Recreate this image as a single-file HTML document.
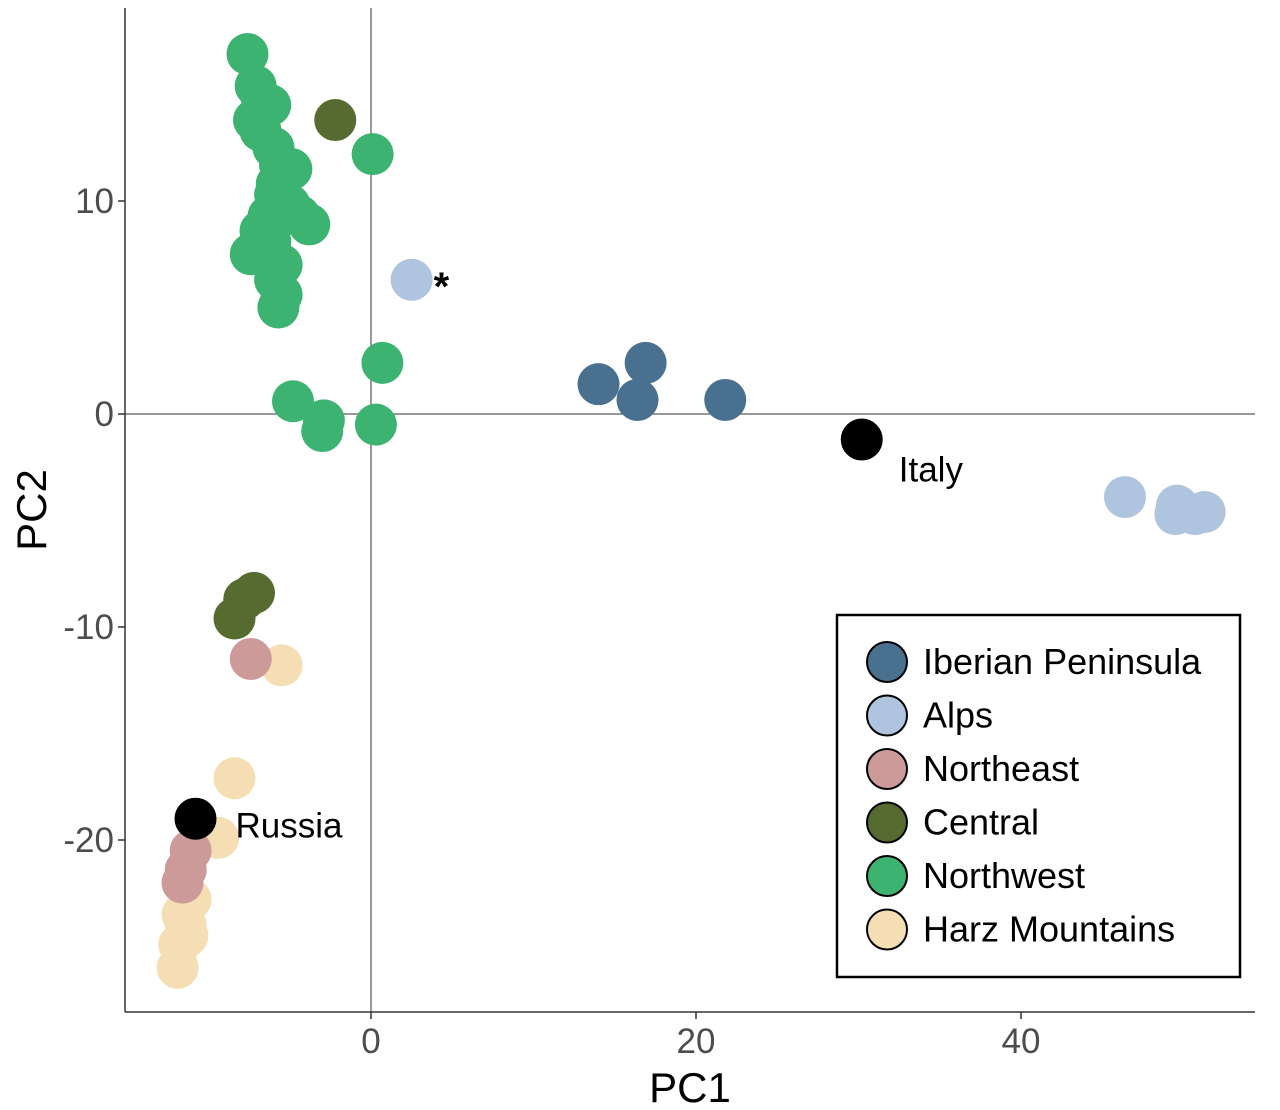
<!DOCTYPE html>
<html><head><meta charset="utf-8"><style>
body{margin:0;background:#fff;}
svg{display:block;font-family:"Liberation Sans",Arial,sans-serif;}
</style></head><body>
<svg id="chart" width="1280" height="1110">
<g id="axes"></g><g id="points"></g><g id="legend"></g>
</svg>
<script>
const groups=["Iberian Peninsula","Alps","Northeast","Central","Northwest","Harz Mountains"];
const colors=["#4a7090","#afc4de","#cd9a9a","#556b2f","#3cb371","#f5deb3"];
const northwestX=[-7.6,-7.1,-6.7,-6.2,-7.2,-6.8,-5.6,-4.9,-5.9,-4.4,-6.3,-3.8,-6.8,-7.4,-5.9,-5.5,-5.7,-6.0,-5.8,-5.0,-6.5,-5.5,-6.2,0.1,0.7,-4.8,-2.9,-3.0,0.3];
const northwestY=[16.9,15.4,14.7,14.5,13.8,13.3,11.7,11.5,10.3,9.3,9.3,8.9,8.6,7.5,6.3,5.6,5.0,12.5,10.8,9.8,7.9,7.0,8.1,12.2,2.4,0.6,-0.3,-0.8,-0.5];
const centralX=[-2.2,-8.4,-7.8,-7.2];
const centralY=[13.8,-9.6,-8.7,-8.4];
const northeastX=[-7.4,-11.1,-11.4,-11.6];
const northeastY=[-11.5,-20.5,-21.4,-22.0];
const harzX=[-5.5,-8.4,-9.4,-11.1,-11.4,-11.8,-11.9,-11.6,-11.3];
const harzY=[-11.8,-17.1,-19.9,-22.8,-24.0,-24.9,-26.0,-23.5,-24.5];
const iberianX=[14.0,16.9,16.4,21.8];
const iberianY=[1.4,2.4,0.66,0.66];
const alpsX=[2.5,46.4,49.6,50.7,49.5,51.3];
const alpsY=[6.3,-3.9,-4.3,-4.7,-4.7,-4.6];
const refLabels=["Russia","Italy"];
const refX=[-10.8,30.2];
const refY=[-19.0,-1.2];
const xTicks=[0,20,40];
const yTicks=[10,0,-10,-20];

const sx=v=>371+v*16.25, sy=v=>414-v*21.3;
const NS="http://www.w3.org/2000/svg";
function mk(tag,attrs,parent){const e=document.createElementNS(NS,tag);for(const k in attrs)e.setAttribute(k,attrs[k]);parent.appendChild(e);return e;}
const ax=document.getElementById('axes'),pts=document.getElementById('points'),lg=document.getElementById('legend');
let l=mk('line',{x1:125,y1:8,x2:125,y2:1012,stroke:'#333','stroke-width':1.5},ax);


l=mk('line',{x1:125,y1:1012,x2:1255,y2:1012,stroke:'#333','stroke-width':1.5},ax);


l=mk('line',{x1:sx(0),y1:8,x2:sx(0),y2:1012,stroke:'#333','stroke-width':1},ax);


l=mk('line',{x1:125,y1:sy(0),x2:1255,y2:sy(0),stroke:'#333','stroke-width':1},ax);


xTicks.forEach(v=>{
 const t=mk('line',{x1:sx(v),y1:1012,x2:sx(v),y2:1019,stroke:'#333','stroke-width':1.5},ax);
 
 
 const tx=mk('text',{x:sx(v),y:1053,'text-anchor':'middle','font-size':35,fill:'#4d4d4d'},ax);tx.textContent=v;
 
 
});
yTicks.forEach(v=>{
 const t=mk('line',{x1:118,y1:sy(v),x2:125,y2:sy(v),stroke:'#333','stroke-width':1.5},ax);
 
 
 const tx=mk('text',{x:114,y:sy(v)+12,'text-anchor':'end','font-size':35,fill:'#4d4d4d'},ax);tx.textContent=v;
 
 
});
let t=mk('text',{x:690,y:1102,'text-anchor':'middle','font-size':42,fill:'#000'},ax);t.textContent='PC1';


t=mk('text',{x:46,y:510,'text-anchor':'middle','font-size':42,fill:'#000',transform:'rotate(-90 46 510)'},ax);t.textContent='PC2';


function draw(xs,ys,col,name){xs.forEach((x,i)=>{const c=mk('circle',{cx:sx(x),cy:sy(ys[i]),r:21,fill:col},pts);
 
 });}
draw(northwestX,northwestY,colors[4],'point-northwest');
draw(harzX,harzY,colors[5],'point-harz');
draw(northeastX,northeastY,colors[2],'point-northeast');
draw(centralX,centralY,colors[3],'point-central');
draw(iberianX,iberianY,colors[0],'point-iberian');
draw(alpsX,alpsY,colors[1],'point-alps');
refX.forEach((x,i)=>{
 const c=mk('circle',{cx:sx(x),cy:sy(refY[i]),r:21,fill:'#000'},pts);
 
 
 const tx=mk('text',{x:sx(x)+(i==0?40:37),y:sy(refY[i])+(i==0?19:42),'font-size':35,fill:'#000'},pts);tx.textContent=refLabels[i];
 
 
});
t=mk('text',{x:sx(alpsX[0])+22,y:sy(alpsY[0])+20,'font-size':40,'font-weight':'bold',fill:'#000'},pts);t.textContent='*';


const box=mk('rect',{x:837,y:615,width:403,height:362,fill:'#fff',stroke:'#000','stroke-width':2.5},lg);


groups.forEach((g,i)=>{
 const y=662+i*53.5;
 const c=mk('circle',{cx:887,cy:y,r:20,fill:colors[i],stroke:'#000','stroke-width':2},lg);
 
 
 const tx=mk('text',{x:923,y:y+12,'font-size':36,fill:'#000'},lg);tx.textContent=g;
 
 
});
</script>
</body></html>
